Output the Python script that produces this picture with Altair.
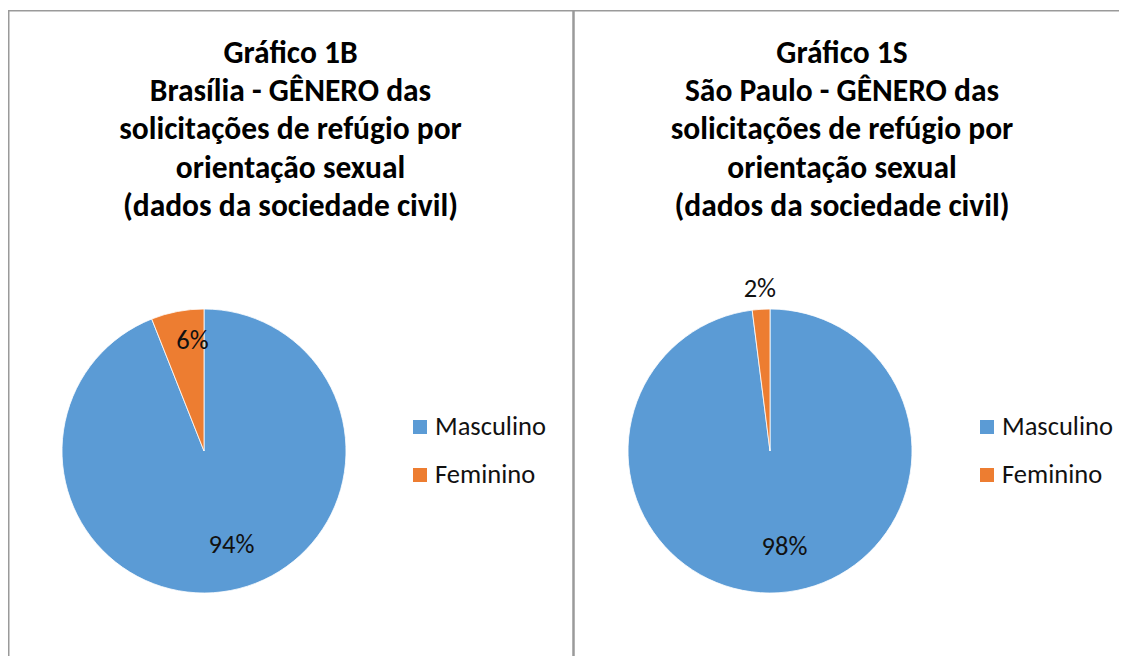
import altair as alt
import pandas as pd

# ---- data ----
painel = ["B", "S"]
generos = ["Masculino", "Feminino"]
brasilia_pct = [94, 6]
saopaulo_pct = [98, 2]
titulos = [
    "Gráfico 1B\nBrasília - GÊNERO das\nsolicitações de refúgio por\norientação sexual\n(dados da sociedade civil)",
    "Gráfico 1S\nSão Paulo - GÊNERO das\nsolicitações de refúgio por\norientação sexual\n(dados da sociedade civil)",
]
cores = ["#5B9BD5", "#ED7D31"]

rows = []
for p, vals in zip(painel, [brasilia_pct, saopaulo_pct]):
    for i, (g, v) in enumerate(zip(generos, vals)):
        rows.append({"painel": p, "genero": g, "pct": v, "ordem": i, "rotulo": f"{v}%"})
df = pd.DataFrame(rows)
df_tit = pd.DataFrame({"painel": painel, "titulo": titulos})

FONT = "Carlito, Lato, sans-serif"
W, H = 1111, 648

color = alt.Color("genero:N", scale=alt.Scale(domain=generos, range=cores), legend=None)
ypos = alt.Y("genero:N", scale=alt.Scale(type="point", domain=generos, range=[419, 467], padding=0), axis=None)
tscale = alt.Scale(domain=[0, 100])

layers = []
one = pd.DataFrame({"a": [0]})
# frame lines
layers.append(alt.Chart(one).mark_rule(color="#9a9a9a", strokeWidth=1.5).encode(
    x=alt.value(0), x2=alt.value(W), y=alt.value(2.75)))
layers.append(alt.Chart(one).mark_rule(color="#9a9a9a", strokeWidth=1.5).encode(
    x=alt.value(0.75), y=alt.value(2.75), y2=alt.value(H)))
layers.append(alt.Chart(one).mark_rule(color="#9a9a9a", strokeWidth=2.5).encode(
    x=alt.value(565.5), y=alt.value(2.75), y2=alt.value(H)))

specs = {
    "B": dict(cx=196, cy=443, tx=282.5, sq=412, lx=427),
    "S": dict(cx=762, cy=443, tx=834, sq=979, lx=994),
}

for p in painel:
    s = specs[p]
    base = alt.Chart(df).transform_filter(alt.datum.painel == p)
    arc = base.mark_arc(radius=142, stroke="white", strokeWidth=0.8).encode(
        theta=alt.Theta("pct:Q", stack=True, scale=tscale),
        order=alt.Order("ordem:Q"),
        color=color,
        x=alt.value(s["cx"]), y=alt.value(s["cy"]),
    )
    mid = base.transform_window(
        cum="sum(pct)", sort=[alt.SortField("ordem")]
    ).transform_calculate(meio="datum.cum - datum.pct / 2")
    lab_in = mid.transform_filter("datum.pct >= 4").mark_text(
        font=FONT, fontSize=26.5, color="#111", align="center", baseline="middle",
        radius=104, dx=8, dy=-8
    ).encode(
        theta=alt.Theta("meio:Q", stack=False, scale=tscale),
        text="rotulo:N",
        x=alt.value(s["cx"]), y=alt.value(s["cy"]),
    )
    lab_out = mid.transform_filter("datum.pct < 4").mark_text(
        font=FONT, fontSize=26.5, color="#111", align="center", baseline="middle", radius=162
    ).encode(
        theta=alt.Theta("meio:Q", stack=False, scale=tscale),
        text="rotulo:N",
        x=alt.value(s["cx"]), y=alt.value(s["cy"]),
    )
    tit = alt.Chart(df_tit).transform_filter(alt.datum.painel == p).mark_text(
        font=FONT, fontSize=31.5, fontWeight="bold", color="#000", align="center",
        baseline="alphabetic", lineBreak="\n", lineHeight=38.4,
    ).encode(text="titulo:N", x=alt.value(s["tx"]), y=alt.value(54.5))
    sq = base.mark_square(size=196, opacity=1).encode(
        x=alt.value(s["sq"]), y=ypos, color=color)
    lt = base.mark_text(font=FONT, fontSize=26.5, color="#111", align="left", baseline="middle").encode(
        x=alt.value(s["lx"]), y=ypos, text="genero:N")
    layers += [arc, lab_in, lab_out, tit, sq, lt]

chart = alt.layer(*layers).properties(
    width=W, height=H,
    autosize=alt.AutoSizeParams(type="none"),
    padding=0,
).configure_view(stroke=None)

chart.save("out.html", embed_options={"renderer": "svg", "actions": False})
